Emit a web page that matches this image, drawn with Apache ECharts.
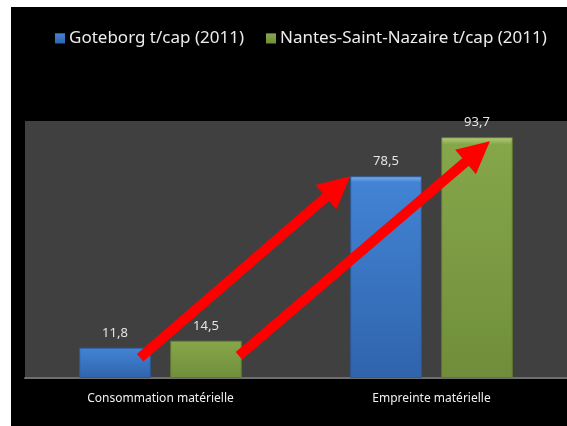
<!DOCTYPE html>
<html>
<head>
<meta charset="utf-8">
<script src="https://cdn.jsdelivr.net/npm/echarts@6/dist/echarts.min.js"></script>
<style>
  html, body { margin: 0; padding: 0; background: #fff; }
  #chart { position: absolute; left: 11px; top: 7px; width: 556px; height: 419px; }
</style>
</head>
<body>
<div id="chart"></div>
<script>
const categories = ['Consommation matérielle', 'Empreinte matérielle'];
const seriesNames = ['Goteborg t/cap (2011)', 'Nantes-Saint-Nazaire t/cap (2011)'];
const goteborg = [11.8, 78.5];
const nantes = [14.5, 93.7];

// red arrows: from a bar of the first group to the same city's bar in the second group
const arrows = [
  { series: 0, from: 0, to: 1 },
  { series: 1, from: 0, to: 1 }
];

const chart = echarts.init(document.getElementById('chart'));

function grad(light, main, dark) {
  return new echarts.graphic.LinearGradient(0, 0, 0, 1, [
    { offset: 0, color: light },
    { offset: 0.03, color: main },
    { offset: 1, color: dark }
  ]);
}

const fmt = p => String(p.value).replace('.', ',');

chart.setOption({
  animation: false,
  backgroundColor: '#000',
  textStyle: { fontFamily: 'Noto Sans' },
  legend: {
    top: 18,
    left: 39,
    icon: 'rect',
    itemWidth: 10,
    itemHeight: 10,
    itemGap: 22,
    itemStyle: { borderWidth: 0 },
    textStyle: { color: '#ececec', fontSize: 17, fontFamily: 'Noto Sans', padding: [0, 0, 0, -1] },
    data: seriesNames
  },
  grid: {
    left: 14, right: 0, top: 114, bottom: 48,
    show: true, backgroundColor: '#404040', borderWidth: 0
  },
  xAxis: {
    type: 'category',
    data: categories,
    axisLine: { lineStyle: { color: '#6e6e6e', width: 2 } },
    axisTick: { show: false },
    axisLabel: { color: '#f0f0f0', fontSize: 12, margin: 15 }
  },
  yAxis: {
    type: 'value', min: 0, max: 100,
    show: false, splitLine: { show: false }
  },
  series: [
    {
      name: seriesNames[0], type: 'bar', data: goteborg,
      barGap: '27%', barCategoryGap: '40%',
      itemStyle: { color: grad('#7fb2ee', '#4283d4', '#2f64ac'), borderColor: '#2c5a9a', borderWidth: 1 },
      label: { show: true, position: 'top', distance: 8, color: '#e4e4e4', fontSize: 13, formatter: fmt }
    },
    {
      name: seriesNames[1], type: 'bar', data: nantes,
      itemStyle: { color: grad('#b5d07a', '#86a64a', '#708e3a'), borderColor: '#5f7a30', borderWidth: 1 },
      label: { show: true, position: 'top', distance: 8, color: '#e4e4e4', fontSize: 13, formatter: fmt }
    }
  ]
});

// arrow end points anchored on the bars' own layout
function barPoint(si, di, fx, dy) {
  const l = chart.getModel().getSeriesByIndex(si).getData().getItemLayout(di);
  return [l.x + l.width * fx, l.y + l.height + dy];
}

const ends = [
  [barPoint(0, arrows[0].from, 0.85, 10), barPoint(0, arrows[0].to, 0, 0)],
  [barPoint(1, arrows[1].from, 0.96, 15), barPoint(1, arrows[1].to, 0.68, 4)]
];

const graphic = [];
ends.forEach(([a, b]) => {
  const dx = b[0] - a[0], dy = b[1] - a[1];
  const len = Math.sqrt(dx * dx + dy * dy);
  const ux = dx / len, uy = dy / len;
  const headLen = 32, headHalf = 16;
  const bx = b[0] - ux * headLen, by = b[1] - uy * headLen;
  graphic.push({
    type: 'line', z: 100,
    shape: { x1: a[0], y1: a[1], x2: bx + ux * 4, y2: by + uy * 4 },
    style: { stroke: '#ff0000', lineWidth: 10 }
  });
  graphic.push({
    type: 'polygon', z: 100,
    shape: { points: [b, [bx - uy * headHalf, by + ux * headHalf], [bx + uy * headHalf, by - ux * headHalf]] },
    style: { fill: '#ff0000' }
  });
});
chart.setOption({ graphic: graphic });
</script>
</body>
</html>
